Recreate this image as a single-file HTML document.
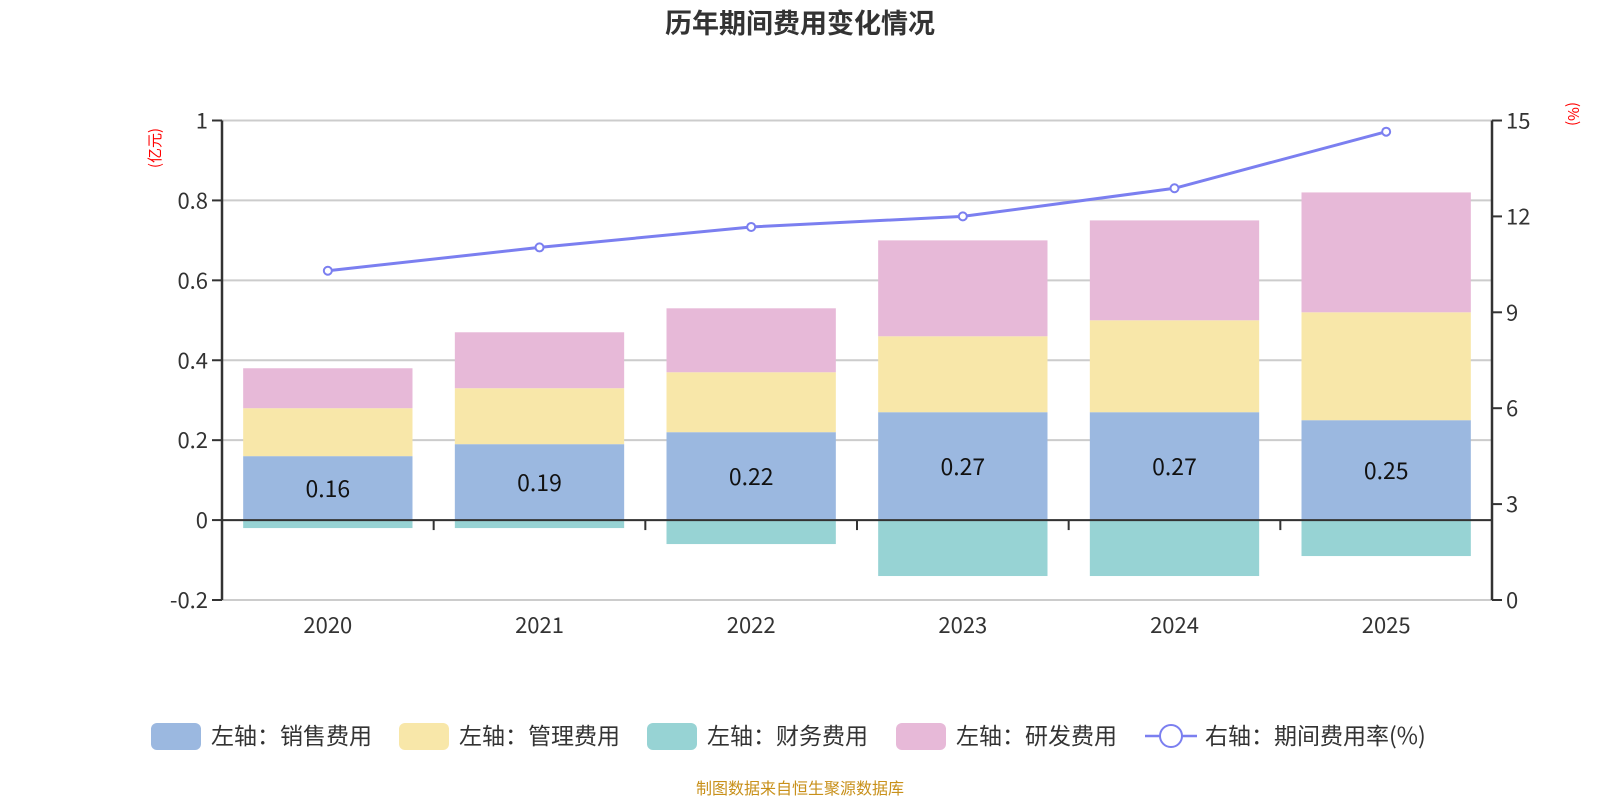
<!DOCTYPE html>
<html><head><meta charset="utf-8"><style>
body{margin:0;background:#fff;}
svg text{font-family:"Noto Sans CJK SC","Liberation Sans",sans-serif;}
</style></head><body>
<svg width="1600" height="800" xmlns="http://www.w3.org/2000/svg" id="chart">
<text x="800" y="33" text-anchor="middle" font-size="27" font-weight="bold" fill="#333">历年期间费用变化情况</text>
<text transform="translate(160,148) rotate(-90)" text-anchor="middle" font-size="15" fill="#f00">(亿元)</text>
<text transform="translate(1568,114) rotate(90)" text-anchor="middle" font-size="15" fill="#f00">(%)</text>
<g id="grid"></g><g id="bars"></g><g id="axes"></g><g id="line"></g>
<g id="legend"></g>
<text x="800" y="794" text-anchor="middle" font-size="16" fill="#c8901a">制图数据来自恒生聚源数据库</text>
</svg>
<script>
const categories=["2020","2021","2022","2023","2024","2025"];
const sales=[0.16,0.19,0.22,0.27,0.27,0.25];
const mgmt=[0.12,0.14,0.15,0.19,0.23,0.27];
const fin=[-0.02,-0.02,-0.06,-0.14,-0.14,-0.09];
const rd=[0.10,0.14,0.16,0.24,0.25,0.30];
const rate=[10.3,11.03,11.67,12.0,12.88,14.65];
const leftTicks=[-0.2,0,0.2,0.4,0.6,0.8,1];
const rightTicks=[0,3,6,9,12,15];
const NS="http://www.w3.org/2000/svg";
const X0=222,X1=1492,YT=120.5,YB=600;
const band=(X1-X0)/categories.length;
const yL=v=>YB-(v+0.2)/1.2*(YB-YT);
const yR=v=>YB-v/15*(YB-YT);
const xC=i=>X0+band*(i+0.5);
function mk(p,tag,a){const e=document.createElementNS(NS,tag);for(const k in a)e.setAttribute(k,a[k]);document.getElementById(p).appendChild(e);return e;}
leftTicks.forEach(t=>{const l=mk('grid','line',{x1:X0,x2:X1,y1:yL(t),y2:yL(t),stroke:'#ccc','stroke-width':2});

const tk=mk('axes','line',{x1:X0-10,x2:X0,y1:yL(t),y2:yL(t),stroke:'#333','stroke-width':2});

const tx=mk('axes','text',{x:X0-14,y:yL(t)+8,'text-anchor':'end','font-size':22,fill:'#333'});tx.textContent=String(t);
});
rightTicks.forEach(t=>{const tk=mk('axes','line',{x1:X1,x2:X1+10,y1:yR(t),y2:yR(t),stroke:'#333','stroke-width':2});

const tx=mk('axes','text',{x:X1+14,y:yR(t)+8,'font-size':22,fill:'#333'});tx.textContent=String(t);
});
const bw=band*0.8;
categories.forEach((c,i)=>{const x=xC(i)-bw/2;
const segs=[[0,sales[i],'#9bb8e0','bar-sales'],[sales[i],sales[i]+mgmt[i],'#f8e7a9','bar-mgmt'],[sales[i]+mgmt[i],sales[i]+mgmt[i]+rd[i],'#e7b9d8','bar-rd'],[fin[i],0,'#97d3d4','bar-finance']];
segs.forEach(s=>{const r=mk('bars','rect',{x:x,y:yL(s[1]),width:bw,height:yL(s[0])-yL(s[1]),fill:s[2]});
});
const t=mk('bars','text',{x:xC(i),y:(yL(0)+yL(sales[i]))/2+9,'text-anchor':'middle','font-size':23,fill:'#111'});t.textContent=sales[i].toFixed(2);

const xl=mk('axes','text',{x:xC(i),y:YB+33,'text-anchor':'middle','font-size':22,fill:'#333'});xl.textContent=c;

if(i>0){const tk=mk('axes','line',{x1:X0+band*i,x2:X0+band*i,y1:yL(0),y2:yL(0)+10,stroke:'#333','stroke-width':2});
}});
const ax0=mk('axes','line',{x1:X0,x2:X1,y1:yL(0),y2:yL(0),stroke:'#333','stroke-width':2});
const axl=mk('axes','line',{x1:X0,x2:X0,y1:YT,y2:YB,stroke:'#333','stroke-width':2.5});
const axr=mk('axes','line',{x1:X1,x2:X1,y1:YT,y2:YB,stroke:'#333','stroke-width':2.5});
const pl=mk('line','polyline',{points:rate.map((v,i)=>xC(i)+','+yR(v)).join(' '),fill:'none',stroke:'#7b7ff0','stroke-width':3});

rate.forEach((v,i)=>{const c=mk('line','circle',{cx:xC(i),cy:yR(v),r:4,fill:'#fff',stroke:'#7b7ff0','stroke-width':2});
});
const leg=[[151,'#9bb8e0','左轴：销售费用'],[399,'#f8e7a9','左轴：管理费用'],[647,'#97d3d4','左轴：财务费用'],[896,'#e7b9d8','左轴：研发费用']];
const LY=736;
leg.forEach(l=>{const r=mk('legend','rect',{x:l[0],y:LY-13,width:50,height:27,rx:6,fill:l[1]});

const t=mk('legend','text',{x:l[0]+60,y:LY+8,'font-size':23,fill:'#333'});t.textContent=l[2];
});
const ll=mk('legend','line',{x1:1145,x2:1197,y1:LY,y2:LY,stroke:'#7b7ff0','stroke-width':2.5});
const lc=mk('legend','circle',{cx:1171,cy:LY,r:11,fill:'#fff',stroke:'#7b7ff0','stroke-width':2});
const lt=mk('legend','text',{x:1205,y:LY+8,'font-size':23,fill:'#333'});lt.textContent='右轴：期间费用率(%)';

</script>
</body></html>
